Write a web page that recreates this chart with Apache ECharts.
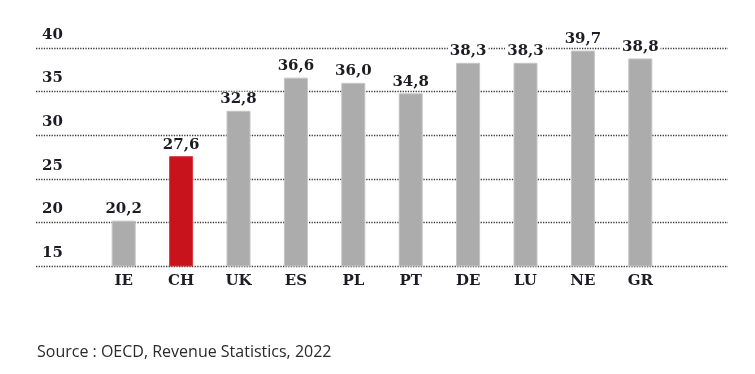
<!DOCTYPE html>
<html><head><meta charset="utf-8">
<script src="https://cdn.jsdelivr.net/npm/echarts@6/dist/echarts.min.js"></script>
<style>html,body{margin:0;padding:0;background:#fff}#c{width:755px;height:374px}</style>
</head><body><div id="c"></div>
<script>
const categories = ['IE','CH','UK','ES','PL','PT','DE','LU','NE','GR'];
const values = [20.2, 27.6, 32.8, 36.6, 36.0, 34.8, 38.3, 38.3, 39.7, 38.8];
const highlight = 'CH';
const yTicks = [15, 20, 25, 30, 35, 40];
const sourceText = 'Source : OECD, Revenue Statistics, 2022';

const serif = 'DejaVu Serif';
const textColor = '#1c1c24';
const chart = echarts.init(document.getElementById('c'));
chart.setOption({
  animation: false,
  backgroundColor: '#fff',
  grid: [
    {left: 36, right: 27, top: 48, bottom: 108},
    {left: 95, right: 86, top: 48, bottom: 108}
  ],
  xAxis: [
    {gridIndex: 0, type: 'category', data: categories, show: false},
    {gridIndex: 1, type: 'category', data: categories,
     axisLine: {show: false}, axisTick: {show: false},
     axisLabel: {margin: 8, fontFamily: serif, fontWeight: 'bold', fontSize: 15, color: textColor}}
  ],
  yAxis: [
    {gridIndex: 0, type: 'value', min: yTicks[0], max: yTicks[yTicks.length-1], interval: 5,
     axisLine: {show: false}, axisTick: {show: false},
     axisLabel: {inside: true, margin: 6, verticalAlign: 'bottom', lineHeight: 16, padding: [0,0,5,0],
       fontFamily: serif, fontWeight: 'bold', fontSize: 15, color: textColor},
     splitLine: {lineStyle: {type: [1.3, 1.3], color: '#3a3a3a', width: 1.3}}},
    {gridIndex: 1, type: 'value', min: yTicks[0], max: yTicks[yTicks.length-1], interval: 5, show: false,
     splitLine: {show: false}}
  ],
  series: [{
    type: 'bar', xAxisIndex: 1, yAxisIndex: 1, barWidth: 24,
    data: values.map((v, i) => ({
      value: v,
      itemStyle: {color: categories[i] === highlight ? '#c8121c' : '#acacac',
                  borderColor: categories[i] === highlight ? '#d43a40' : '#c4c4c4', borderWidth: 1}
    })),
    label: {show: true, position: 'top', distance: 4, fontFamily: serif, fontWeight: 'bold', fontSize: 15,
      color: textColor, backgroundColor: '#fff', padding: [0, 2],
      formatter: p => p.value.toFixed(1).replace('.', ',')}
  }],
  graphic: [{type: 'text', left: 37, top: 344,
    style: {text: sourceText, font: '16px "Open Sans"', fill: '#2a2a2a'}}]
});
</script></body></html>
